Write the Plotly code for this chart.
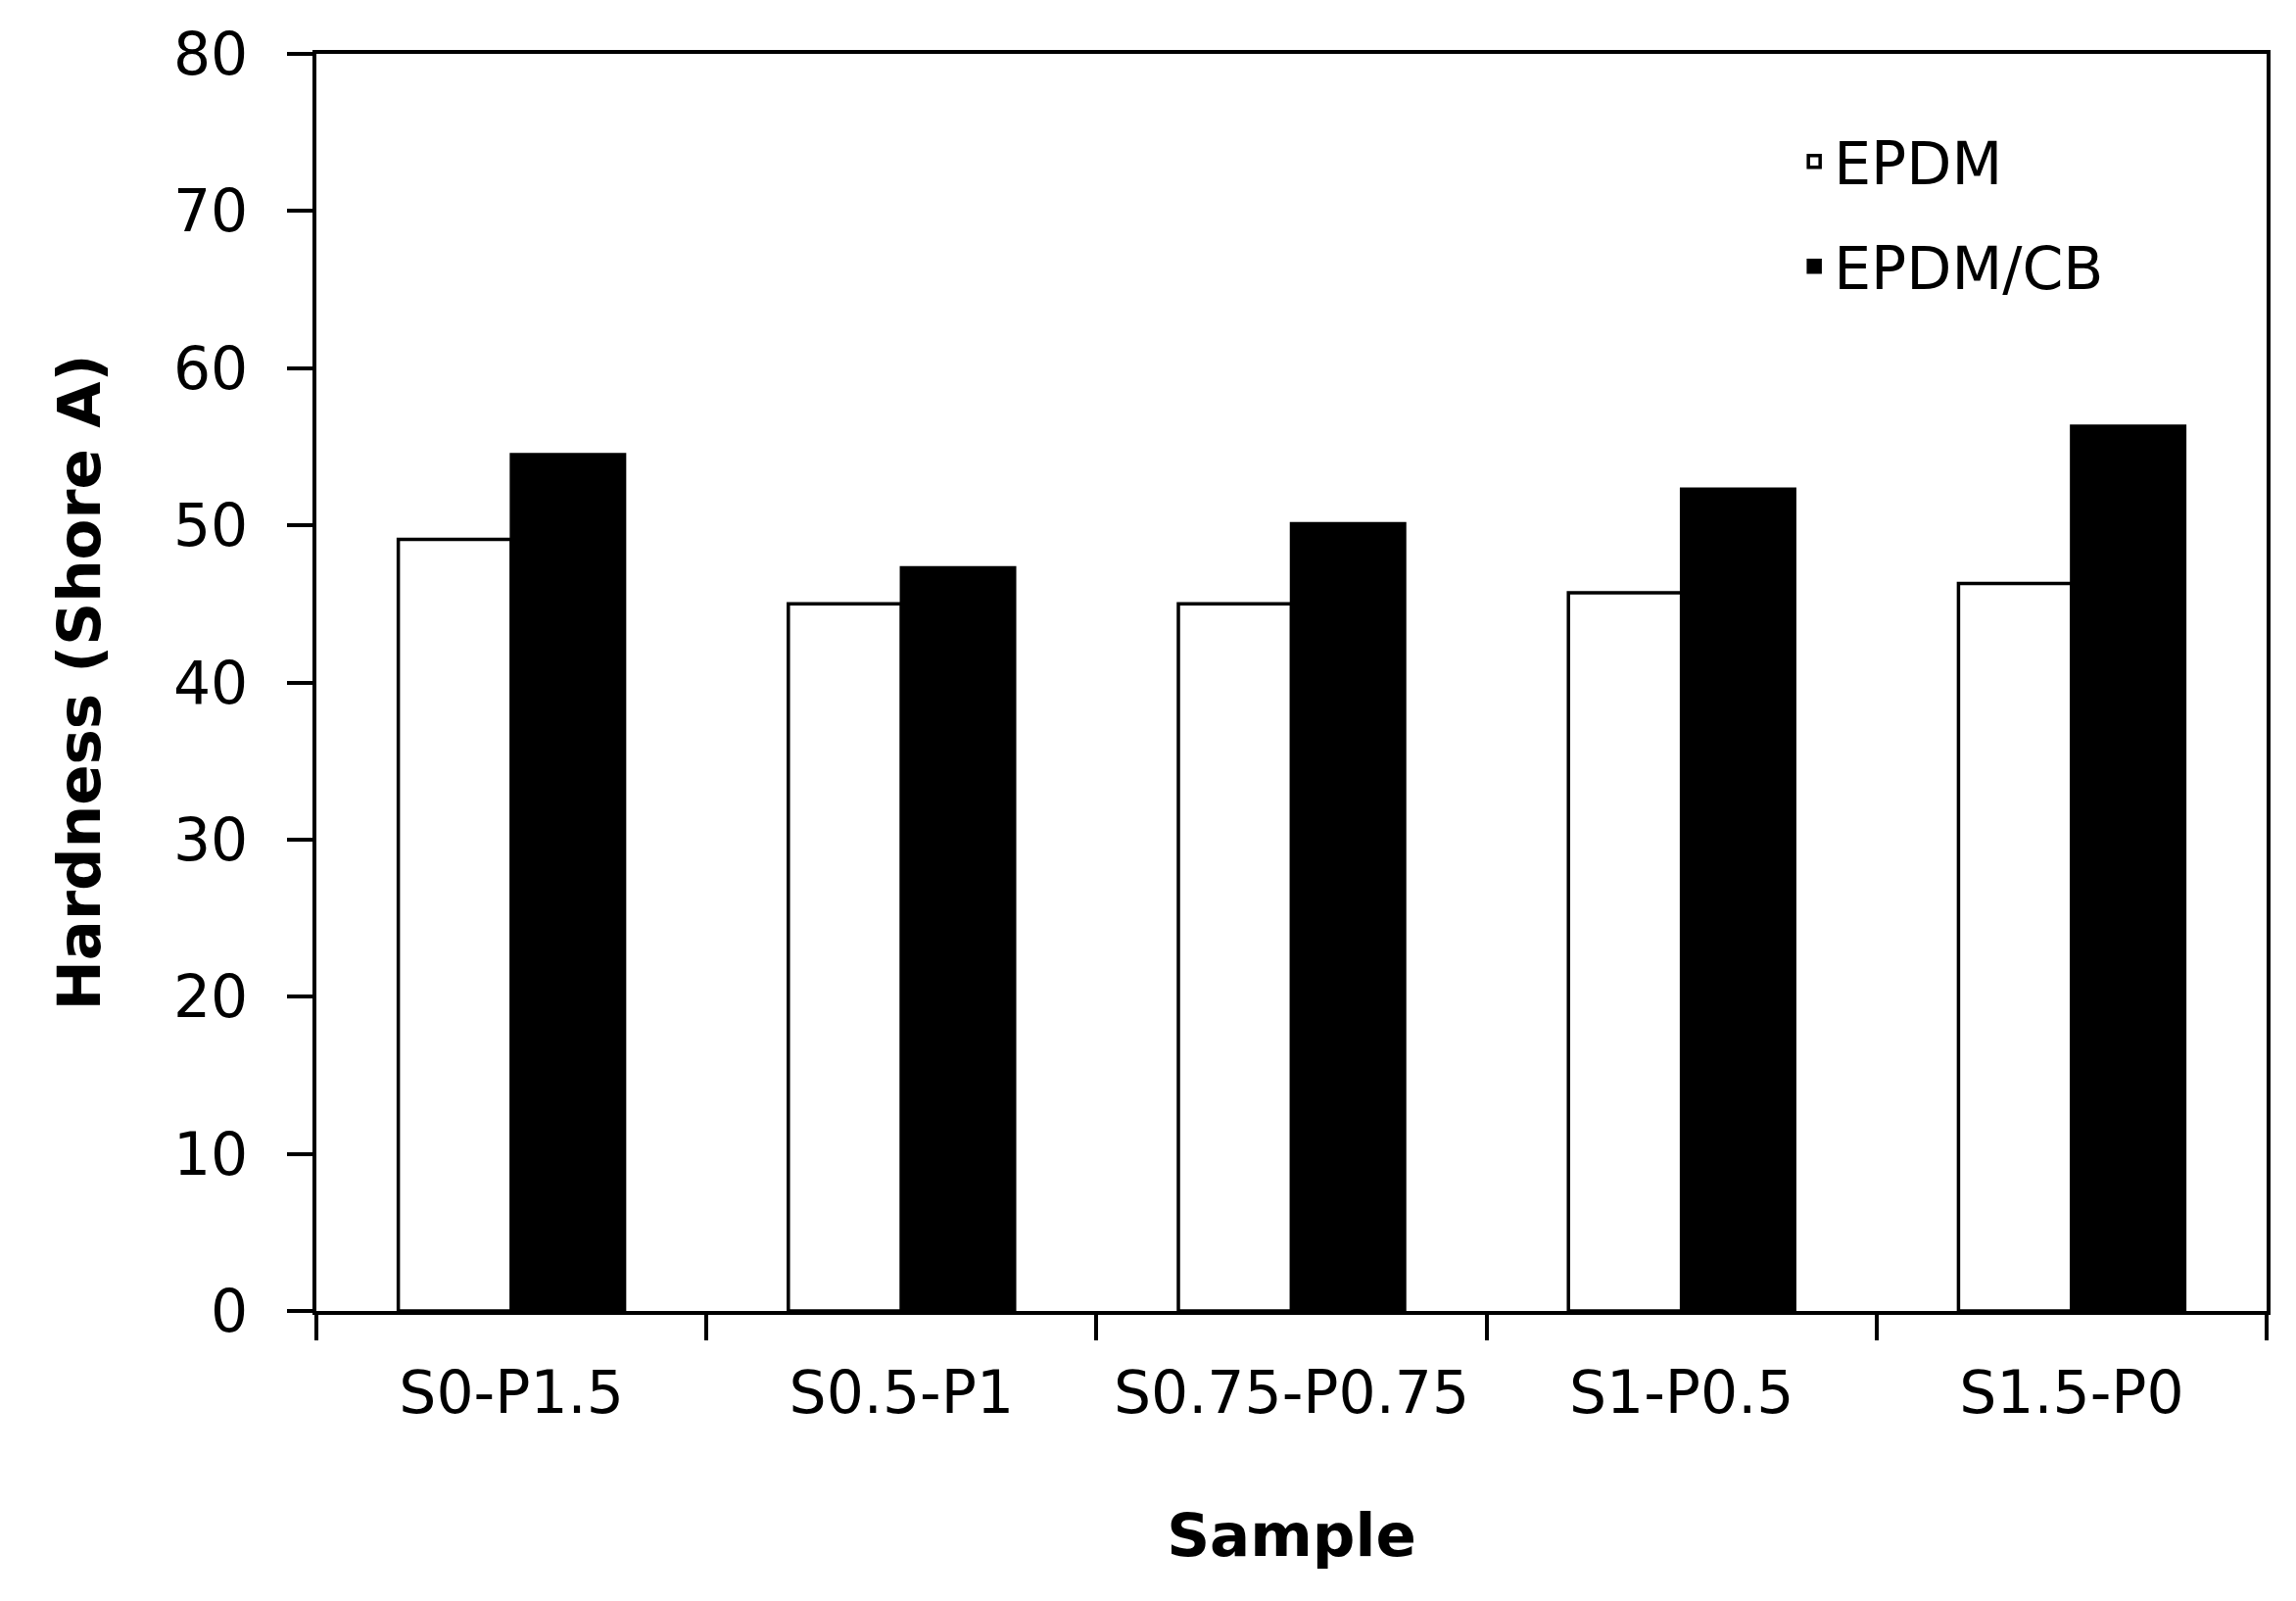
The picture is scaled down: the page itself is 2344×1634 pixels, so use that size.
import plotly.graph_objects as go

# sample names and hardness readings (Shore A)
samples = ['S0-P1.5', 'S0.5-P1', 'S0.75-P0.75', 'S1-P0.5', 'S1.5-P0']
epdm = [49.1, 45.0, 45.0, 45.7, 46.3]
epdm_cb = [54.5, 47.3, 50.1, 52.3, 56.3]
y_ticks = [0, 10, 20, 30, 40, 50, 60, 70, 80]

font_name = 'DejaVu Sans'

fig = go.Figure()
fig.add_trace(go.Bar(x=samples, y=epdm, name='EPDM', legendgroup='a',
                     marker=dict(color='white', line=dict(color='black', width=3.5))))
fig.add_trace(go.Bar(x=samples, y=epdm_cb, name='EPDM/CB', legendgroup='b',
                     marker=dict(color='black', line=dict(color='black', width=3.5))))

fig.update_layout(
    width=2344, height=1634,
    margin=dict(l=315, r=38, t=45, b=304),
    paper_bgcolor='white', plot_bgcolor='white',
    barmode='group', bargap=0.42, bargroupgap=0,
    font=dict(family=font_name, size=60, color='black'),
    showlegend=True,
    legend=dict(x=0.758, y=0.95, xanchor='left', yanchor='top',
                bgcolor='rgba(0,0,0,0)', font=dict(size=60),
                tracegroupgap=26, traceorder='grouped'),
)

fig.update_xaxes(
    showline=True, linecolor='black', linewidth=3.5, mirror=True,
    ticks='outside', ticklen=26, tickwidth=3.5, tickcolor='black',
    tickson='boundaries', showgrid=False,
    ticklabelstandoff=28,
    title=dict(text='<b>Sample</b>', font=dict(size=61), standoff=92),
)
fig.update_yaxes(
    range=[0, 80], tickvals=y_ticks,
    showline=True, linecolor='black', linewidth=3.5, mirror=True,
    ticks='outside', ticklen=26, tickwidth=3.5, tickcolor='black',
    showgrid=False, zeroline=False,
    ticklabelstandoff=28,
    title=dict(text='<b>Hardness (Shore A)</b>', font=dict(size=61), standoff=56),
)

fig.write_html("out.html")
